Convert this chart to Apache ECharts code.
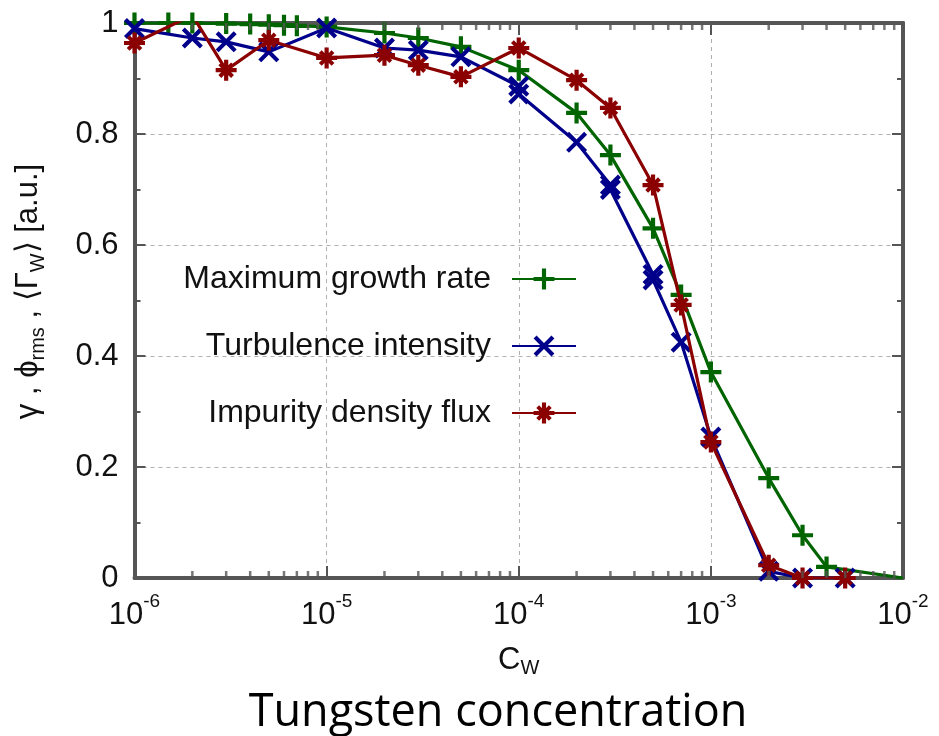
<!DOCTYPE html>
<html><head><meta charset="utf-8">
<script src="https://cdn.jsdelivr.net/npm/echarts@6/dist/echarts.min.js"></script>
<style>html,body{margin:0;padding:0;background:#fff}#c{width:939px;height:736px}</style>
</head><body><div id="c"></div>
<script>
// ---- data ----
const concGrowth   = [1e-6,1.5e-6,2e-6,3e-6,4e-6,5e-6,6e-6,7e-6,1e-5,2e-5,3e-5,5e-5,1e-4,2e-4,3e-4,5e-4,7e-4,1e-3,2e-3,3e-3,4e-3,1e-2];
const growthRate   = [1.0,1.0,1.0,0.999,0.998,0.997,0.996,0.995,0.993,0.982,0.973,0.957,0.915,0.838,0.762,0.63,0.51,0.371,0.18,0.077,0.02,0.0];
const concTurb     = [1e-6,2e-6,3e-6,5e-6,1e-5,2e-5,3e-5,5e-5,1e-4,1e-4,2e-4,3e-4,3e-4,5e-4,5e-4,7e-4,1e-3,2e-3,3e-3,5e-3];
const turbIntensity= [0.99,0.973,0.966,0.948,0.991,0.955,0.951,0.939,0.886,0.872,0.785,0.708,0.700,0.547,0.537,0.425,0.254,0.012,0,0];
const concFlux     = [1e-6,2e-6,3e-6,5e-6,1e-5,2e-5,3e-5,5e-5,1e-4,2e-4,3e-4,5e-4,7e-4,1e-3,2e-3,3e-3,5e-3];
const impurityFlux = [0.964,1.014,0.915,0.969,0.937,0.942,0.924,0.903,0.955,0.897,0.847,0.708,0.492,0.245,0.023,0,0];
const seriesNames  = ['Maximum growth rate','Turbulence intensity','Impurity density flux'];
const xTickExponents = ['-6','-5','-4','-3','-2'];
const yTickLabels  = ['0','0.2','0.4','0.6','0.8','1'];
const minorMantissas = [2,3,4,5,6,7,8,9];
const minorDecades = [1e-6,1e-5,1e-4,1e-3];
const xAxisTitle = 'C';
const xAxisSub = 'W';
const bottomTitle = 'Tungsten concentration';

// ---- styling ----
const FONT = 'Liberation Sans, Arial, Helvetica, sans-serif';
const AX = '#555555';
const colors = ['#006400','#00008b','#8b0000'];
const X_MAX = 1e-2;
const t = 0.2;
const plusBody = 'M-1,-'+t+'L-'+t+',-'+t+'L-'+t+',-1L'+t+',-1L'+t+',-'+t+'L1,-'+t+'L1,'+t+'L'+t+','+t+'L'+t+',1L-'+t+',1L-'+t+','+t+'L-1,'+t+'Z';
const plusPath = 'path://' + plusBody;
const d = 0.28;
const crossPath = 'path://' +
  'M'+(-1+d)+',-1L1,'+(1-d)+'L'+(1-d)+',1L-1,'+(-1+d)+'Z' +
  'M'+(1-d)+',-1L1,'+(-1+d)+'L'+(-1+d)+',1L-1,'+(1-d)+'Z';
const s = 0.74, d2 = 0.27;
const xSmall = 'M'+(-s+d2)+','+(-s)+'L'+s+','+(s-d2)+'L'+(s-d2)+','+s+'L'+(-s)+','+(-s+d2)+'Z' +
               'M'+(s-d2)+','+(-s)+'L'+s+','+(-s+d2)+'L'+(-s+d2)+','+s+'L'+(-s)+','+(s-d2)+'Z';
const starPath = 'path://' + plusBody + xSmall;

function zip(xs, ys){
  return xs.map((x,i)=> x >= X_MAX ? {value:[x, ys[i]], symbolSize:0} : [x, ys[i]]);
}
const minorTicks = [];
minorDecades.forEach(dec => minorMantissas.forEach(m => minorTicks.push(m*dec)));

const chart = echarts.init(document.getElementById('c'), null, {renderer:'canvas'});

function lineSeries(i, xs, ys, sym){
  return {
    name: seriesNames[i], type:'line', data: zip(xs, ys),
    symbol: sym, symbolSize: 21, showAllSymbol: true,
    lineStyle: {color: colors[i], width: 3.2},
    itemStyle: {color: colors[i]},
    emphasis: {disabled: true}, clip: true, z: 3 + i, animation:false
  };
}
function tickSeries(yv, off){
  return {
    type:'scatter', data: minorTicks.map(x=>[x,yv]), symbol:'rect', symbolSize:[2.5,7],
    symbolOffset:[0,off], itemStyle:{color:AX}, silent:true, clip:false, z:10,
    emphasis:{disabled:true}, animation:false
  };
}

const common = {
  axisLine:{show:true, onZero:false, lineStyle:{color:AX, width:4}},
  axisTick:{show:true, inside:true, length:12, lineStyle:{color:AX, width:2}}
};

const option = {
  animation:false,
  backgroundColor:'#ffffff',
  grid:{left:134.5, right:36, top:23, bottom:158, outerBoundsMode:'none', containLabel:false},
  legend:{
    data: seriesNames, orient:'vertical', align:'right', right:362, top:261,
    itemWidth:64, itemHeight:26, itemGap:31, padding:0,
    textStyle:{fontSize:32, fontFamily:FONT, color:'#111', lineHeight:36, padding:[0,16,0,0]},
    selectedMode:false
  },
  xAxis:[
    Object.assign({}, common, {
      type:'log', logBase:10, min:1e-6, max:X_MAX, position:'bottom',
      splitLine:{show:true, lineStyle:{color:'#b0b0b0', width:1, type:[4,4]}},
      axisLabel:{margin:14, formatter:function(v){
        const e = Math.round(Math.log10(v));
        return '{b|10}{s|' + xTickExponents[e + 6] + '}';
      }, rich:{
        b:{fontSize:31, lineHeight:46, fontFamily:FONT, color:'#111'},
        s:{fontSize:19, lineHeight:19, verticalAlign:'top', fontFamily:FONT, color:'#111'}
      }},
      name:'{c|' + xAxisTitle + '}{w|' + xAxisSub + '}', nameLocation:'middle', nameGap:64,
      nameTextStyle:{rich:{
        c:{fontSize:31, lineHeight:36, fontFamily:FONT, color:'#111'},
        w:{fontSize:20, lineHeight:20, verticalAlign:'bottom', fontFamily:FONT, color:'#111'}
      }}
    }),
    Object.assign({}, common, {
      type:'log', logBase:10, min:1e-6, max:X_MAX, position:'top',
      axisLabel:{show:false}, splitLine:{show:false}
    })
  ],
  yAxis:[
    Object.assign({}, common, {
      type:'value', min:0, max:1, interval:0.2, position:'left',
      axisTick:{show:true, inside:true, length:11, lineStyle:{color:AX, width:2}},
      minorTick:{show:true, splitNumber:2, length:6, lineStyle:{color:AX, width:2}},
      splitLine:{show:true, lineStyle:{color:'#b0b0b0', width:1, type:[4,4]}},
      axisLabel:{margin:16, fontSize:31, fontFamily:FONT, color:'#111', formatter:function(v){
        return yTickLabels[Math.round(v*5)];
      }},
      name:'{n|γ , ϕ}{s|rms}{n| , ⟨Γ}{s|W}{n|⟩ [a.u.]}', nameLocation:'middle', nameGap:86, nameRotate:90,
      nameTextStyle:{padding:[0,0,0,18], rich:{
        n:{fontSize:31, lineHeight:40, fontFamily:FONT, color:'#111'},
        s:{fontSize:20, lineHeight:20, verticalAlign:'bottom', fontFamily:FONT, color:'#111'}
      }}
    }),
    Object.assign({}, common, {
      type:'value', min:0, max:1, interval:0.2, position:'right',
      axisTick:{show:true, inside:true, length:11, lineStyle:{color:AX, width:2}},
      minorTick:{show:true, splitNumber:2, length:6, lineStyle:{color:AX, width:2}},
      axisLabel:{show:false}, splitLine:{show:false}
    })
  ],
  graphic:[{
    type:'text', x:498, y:713, silent:true,
    style:{text:bottomTitle, fontSize:45, fontFamily:'"Open Sans", "Noto Sans", sans-serif', fill:'#000', align:'center', verticalAlign:'middle'}
  }],
  series:[
    lineSeries(0, concGrowth, growthRate, plusPath),
    lineSeries(1, concTurb, turbIntensity, crossPath),
    lineSeries(2, concFlux, impurityFlux, starPath),
    tickSeries(0, -3.5),
    tickSeries(1, 3.5)
  ]
};
chart.setOption(option);
</script>
</body></html>
